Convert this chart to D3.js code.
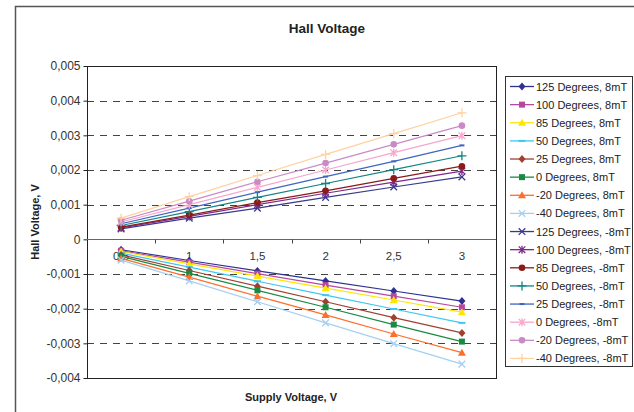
<!DOCTYPE html>
<html>
<head>
<meta charset="utf-8">
<script src="https://cdn.jsdelivr.net/npm/d3@7"></script>
<style>
  body { margin: 0; background: #fff; }
  svg { display: block; font-family: "Liberation Sans", Arial, sans-serif; }
</style>
</head>
<body>
<svg id="chart" width="634" height="412"></svg>
<script>
// supply voltage categories
var categories = ["0,5", "1", "1,5", "2", "2,5", "3"];
var yTicks = [0.005, 0.004, 0.003, 0.002, 0.001, 0, -0.001, -0.002, -0.003, -0.004];

var seriesNames = [
  "125 Degrees, 8mT", "100 Degrees, 8mT", "85 Degrees, 8mT", "50 Degrees, 8mT",
  "25 Degrees, 8mT", "0 Degrees, 8mT", "-20 Degrees, 8mT", "-40 Degrees, 8mT",
  "125 Degrees, -8mT", "100 Degrees, -8mT", "85 Degrees, -8mT", "50 Degrees, -8mT",
  "25 Degrees, -8mT", "0 Degrees, -8mT", "-20 Degrees, -8mT", "-40 Degrees, -8mT"
];

// hall voltage, V
var v125p = [-0.00030, -0.00061, -0.00091, -0.00120, -0.00149, -0.00178];
var v100p = [-0.00033, -0.00066, -0.00099, -0.00132, -0.00164, -0.00196];
var v85p  = [-0.00035, -0.00071, -0.00106, -0.00141, -0.00175, -0.00210];
var v50p  = [-0.00040, -0.00080, -0.00121, -0.00161, -0.00201, -0.00241];
var v25p  = [-0.00045, -0.00090, -0.00135, -0.00180, -0.00226, -0.00270];
var v0p   = [-0.00049, -0.00098, -0.00147, -0.00196, -0.00246, -0.00295];
var vm20p = [-0.00055, -0.00109, -0.00164, -0.00218, -0.00273, -0.00327];
var vm40p = [-0.00060, -0.00120, -0.00180, -0.00241, -0.00301, -0.00360];
var v125n = [0.00030, 0.00061, 0.00090, 0.00121, 0.00151, 0.00180];
var v100n = [0.00033, 0.00066, 0.00100, 0.00133, 0.00165, 0.00197];
var v85n  = [0.00035, 0.00070, 0.00106, 0.00140, 0.00176, 0.00211];
var v50n  = [0.00040, 0.00080, 0.00121, 0.00161, 0.00201, 0.00241];
var v25n  = [0.00045, 0.00090, 0.00136, 0.00181, 0.00225, 0.00271];
var v0n   = [0.00050, 0.00100, 0.00150, 0.00200, 0.00250, 0.00299];
var vm20n = [0.00055, 0.00110, 0.00166, 0.00220, 0.00274, 0.00328];
var vm40n = [0.00061, 0.00123, 0.00184, 0.00245, 0.00305, 0.00365];

var values = [v125p, v100p, v85p, v50p, v25p, v0p, vm20p, vm40p,
              v125n, v100n, v85n, v50n, v25n, v0n, vm20n, vm40n];

var colors = ["#2d3292", "#b8489f", "#ffe600", "#3cc8f0", "#a04030", "#188a44", "#ff6e2a", "#a4cff2",
              "#383a8c", "#7d2a8c", "#8c1a1a", "#118585", "#4064c0", "#f7a6cc", "#c98ac6", "#ffd2a0"];
var markers = ["diamond", "square", "triangle", "dash", "diamond", "square", "triangle", "x",
               "x", "asterisk", "circle", "plus", "smalldash", "asterisk", "circle", "plus"];

var svg = d3.select("#chart");
var plotLeft = 87, plotRight = 496, plotTop = 66, plotBottom = 378;

var x = d3.scaleBand().domain(categories).range([plotLeft, plotRight]).padding(0);
var y = d3.scaleLinear().domain([-0.004, 0.005]).range([plotBottom, plotTop]);

var loc = d3.formatLocale({decimal: ",", thousands: ".", grouping: [3], currency: ["", ""], minus: "-"});
var fmt = function(d) { return d === 0 ? "0" : loc.format(".3f")(d); };

// outer chart frame
svg.append("rect").attr("x", 15.5).attr("y", 6.5).attr("width", 640).attr("height", 420)
  .attr("fill", "none").attr("stroke", "#555").attr("stroke-width", 1.5);

svg.append("text").attr("x", 327).attr("y", 33).attr("text-anchor", "middle")
  .attr("font-size", "13.5px").attr("font-weight", "bold").attr("fill", "#222").text("Hall Voltage");

// gridlines
svg.append("g").selectAll("line").data(yTicks.filter(function(d) { return d !== 0 && d !== 0.005 && d !== -0.004; }))
  .enter().append("line")
  .attr("x1", plotLeft).attr("x2", plotRight)
  .attr("y1", function(d) { return Math.round(y(d)) + 0.5; })
  .attr("y2", function(d) { return Math.round(y(d)) + 0.5; })
  .attr("stroke", "#444").attr("stroke-dasharray", "7,6");

// plot frame
svg.append("rect").attr("x", plotLeft + 0.5).attr("y", plotTop + 0.5)
  .attr("width", plotRight - plotLeft).attr("height", plotBottom - plotTop)
  .attr("fill", "none").attr("stroke", "#222");

// y axis
var yAxis = d3.axisLeft(y).tickValues(yTicks).tickFormat(fmt).tickSize(4).tickPadding(3);
var gy = svg.append("g").attr("transform", "translate(" + (plotLeft + 0.5) + ",0)").call(yAxis);
gy.select(".domain").remove();
gy.selectAll("line").attr("stroke", "#222");
gy.selectAll("text").attr("font-size", "12px").attr("fill", "#333").attr("font-family", "Liberation Sans, Arial, sans-serif");

// x axis along zero
var zy = Math.round(y(0)) + 0.5;
svg.append("line").attr("x1", plotLeft).attr("x2", plotRight).attr("y1", zy).attr("y2", zy).attr("stroke", "#666");
svg.append("g").selectAll("line").data(categories.slice(1)).enter().append("line")
  .attr("x1", function(d) { return Math.round(x(d)) + 0.5; })
  .attr("x2", function(d) { return Math.round(x(d)) + 0.5; })
  .attr("y1", zy).attr("y2", zy + 4).attr("stroke", "#444");
svg.append("g").selectAll("text").data(categories).enter().append("text")
  .attr("x", function(d) { return x(d) + x.bandwidth() / 2; })
  .attr("y", zy + 20)
  .attr("text-anchor", "middle").attr("font-size", "11.5px").attr("fill", "#333")
  .text(function(d) { return d; });

svg.append("text").attr("x", 291).attr("y", 400.5).attr("text-anchor", "middle")
  .attr("font-size", "11px").attr("font-weight", "bold").attr("fill", "#222").text("Supply Voltage, V");
svg.append("text").attr("transform", "translate(39,222) rotate(-90)").attr("text-anchor", "middle")
  .attr("font-size", "11px").attr("font-weight", "bold").attr("fill", "#222").text("Hall Voltage, V");

function drawMarker(g, type, cx, cy, color) {
  if (type === "diamond") {
    g.append("path").attr("d", "M" + cx + "," + (cy - 4) + "L" + (cx + 3.5) + "," + cy + "L" + cx + "," + (cy + 4) + "L" + (cx - 3.5) + "," + cy + "Z").attr("fill", color);
  } else if (type === "square") {
    g.append("rect").attr("x", cx - 3).attr("y", cy - 3).attr("width", 6).attr("height", 6).attr("fill", color);
  } else if (type === "triangle") {
    g.append("path").attr("d", "M" + cx + "," + (cy - 4) + "L" + (cx + 4) + "," + (cy + 3) + "L" + (cx - 4) + "," + (cy + 3) + "Z").attr("fill", color);
  } else if (type === "circle") {
    g.append("circle").attr("cx", cx).attr("cy", cy).attr("r", 3.3).attr("fill", color);
  } else if (type === "dash" || type === "smalldash") {
    var w = type === "dash" ? 3.5 : 2.5;
    g.append("line").attr("x1", cx - w).attr("x2", cx + w).attr("y1", cy).attr("y2", cy)
      .attr("stroke", color).attr("stroke-width", 2);
  } else {
    var s = 3.3, d = "";
    if (type === "x" || type === "asterisk") d += "M" + (cx - s) + "," + (cy - s) + "L" + (cx + s) + "," + (cy + s) + "M" + (cx - s) + "," + (cy + s) + "L" + (cx + s) + "," + (cy - s);
    if (type === "asterisk") d += "M" + cx + "," + (cy - 4) + "L" + cx + "," + (cy + 4);
    if (type === "plus") d += "M" + (cx - 4.5) + "," + cy + "L" + (cx + 4.5) + "," + cy + "M" + cx + "," + (cy - 4.5) + "L" + cx + "," + (cy + 4.5);
    g.append("path").attr("d", d).attr("stroke", color).attr("stroke-width", 1.3).attr("fill", "none");
  }
}

var line = d3.line()
  .x(function(d, i) { return x(categories[i]) + x.bandwidth() / 2; })
  .y(function(d) { return y(d); });

values.forEach(function(vals, s) {
  var g = svg.append("g");
  g.append("path").attr("d", line(vals)).attr("fill", "none").attr("stroke", colors[s]).attr("stroke-width", 1.2);
  vals.forEach(function(v, i) {
    drawMarker(g, markers[s], x(categories[i]) + x.bandwidth() / 2, y(v), colors[s]);
  });
});

// legend
var lg = svg.append("g");
lg.append("rect").attr("x", 505.5).attr("y", 76.5).attr("width", 127).attr("height", 290)
  .attr("fill", "#fff").attr("stroke", "#333");
seriesNames.forEach(function(name, i) {
  var cy = 86.5 + i * 18.13;
  lg.append("line").attr("x1", 510).attr("x2", 534).attr("y1", cy).attr("y2", cy)
    .attr("stroke", colors[i]).attr("stroke-width", 1.3);
  drawMarker(lg, markers[i], 522, cy, colors[i]);
  lg.append("text").attr("x", 536).attr("y", cy + 4).attr("font-size", "11px").attr("fill", "#222").text(name);
});
</script>
</body>
</html>
